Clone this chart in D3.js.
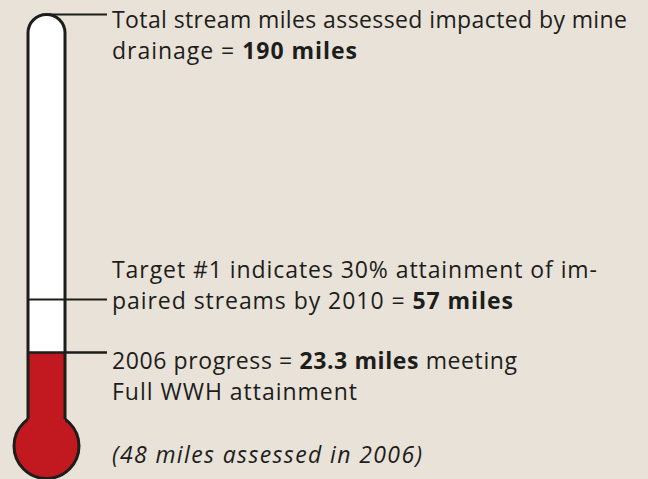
<!DOCTYPE html>
<html><head><meta charset="utf-8">
<script src="https://cdn.jsdelivr.net/npm/d3@7"></script>
<style>
html,body{margin:0;padding:0;background:#e8e2d8;}
svg{display:block;}
</style></head>
<body>
<script>
// ---- data ----
const markerNames = ["total", "target", "progress"];
const markerValues = [190, 57, 23.3];
const progressValue = 23.3;
const assessedIn2006 = 48;
const labelLines = [
  [[{t:"Total stream miles assessed impacted by mine"}], [{t:"drainage = "}, {t:"190 miles", b:true}]],
  [[{t:"Target #1 indicates 30% attainment of im-"}], [{t:"paired streams by 2010 = "}, {t:"57 miles", b:true}]],
  [[{t:"2006 progress = "}, {t:"23.3 miles", b:true}, {t:" meeting"}], [{t:"Full WWH attainment"}]]
];
const noteText = "(48 miles assessed in 2006)";

// ---- layout ----
const W = 648, H = 479;
const svg = d3.select("body").append("svg").attr("width", W).attr("height", H);
svg.append("rect").attr("width", W).attr("height", H).attr("fill", "#e8e2d8");

// piecewise scale reproducing the graphic's (non-uniform) spacing
const y = d3.scaleLinear().domain([0, 23.3, 57, 190]).range([415, 352.5, 299.5, 14.5]);

const cx = 46.5, tubeHalf = 18.5, bulbR = 32.5, bulbCy = 446;
const ink = "#1d1d1b", red = "#c1191f";
const fontFam = "'Open Sans', sans-serif";

// tube background (white) with rounded cap
const topY = y(190);
const tubePath = d3.path();
tubePath.moveTo(cx - tubeHalf, bulbCy);
tubePath.lineTo(cx - tubeHalf, topY + tubeHalf);
tubePath.arc(cx, topY + tubeHalf, tubeHalf, Math.PI, 0);
tubePath.lineTo(cx + tubeHalf, bulbCy);
svg.append("path").attr("d", tubePath.toString()).attr("fill", "#ffffff");

// bulb
svg.append("circle").attr("cx", cx).attr("cy", bulbCy).attr("r", bulbR)
  .attr("fill", red).attr("stroke", ink).attr("stroke-width", 3);

// red fill in tube up to progress value
svg.append("rect")
  .attr("x", cx - tubeHalf).attr("width", tubeHalf * 2)
  .attr("y", y(progressValue)).attr("height", bulbCy - y(progressValue))
  .attr("fill", red);

// tube outline
svg.append("path").attr("d", (() => {
  const p = d3.path();
  const bottom = bulbCy - Math.sqrt(bulbR*bulbR - tubeHalf*tubeHalf);
  p.moveTo(cx - tubeHalf, bottom);
  p.lineTo(cx - tubeHalf, topY + tubeHalf);
  p.arc(cx, topY + tubeHalf, tubeHalf, Math.PI, 0);
  p.lineTo(cx + tubeHalf, bottom);
  return p.toString();
})()).attr("fill", "none").attr("stroke", ink).attr("stroke-width", 3);

// marker lines
const lineEnd = 107;
markerValues.forEach((v, i) => {
  const yy = y(v);
  const x0 = i === 0 ? cx : cx - tubeHalf;
  svg.append("line")
    .attr("x1", x0).attr("x2", lineEnd).attr("y1", yy).attr("y2", yy)
    .attr("stroke", ink).attr("stroke-width", i === 2 ? 2.5 : 2);
});

// labels (line widths matched to the original typesetting)
const textX = 112;
const fs = 23, lh = 31.3;
const firstBaselines = [27.5, 278, 368.5];
const lineWidths = [[515, 245], [485, 401], [405, 245]];
labelLines.forEach((lines, i) => {
  lines.forEach((parts, j) => {
    const t = svg.append("text")
      .attr("x", textX).attr("y", firstBaselines[i] + j * lh)
      .attr("font-family", fontFam).attr("font-size", fs).attr("fill", ink);
    parts.forEach(p => {
      t.append("tspan").text(p.t).attr("font-weight", p.b ? 700 : 400);
    });
    t.attr("textLength", lineWidths[i][j]).attr("lengthAdjust", "spacing");
  });
});
svg.append("text").attr("x", textX).attr("y", 463)
  .attr("font-family", fontFam).attr("font-size", fs).attr("font-style", "italic")
  .attr("fill", ink).attr("textLength", 310).attr("lengthAdjust", "spacing")
  .text(noteText);
</script>
</body></html>
